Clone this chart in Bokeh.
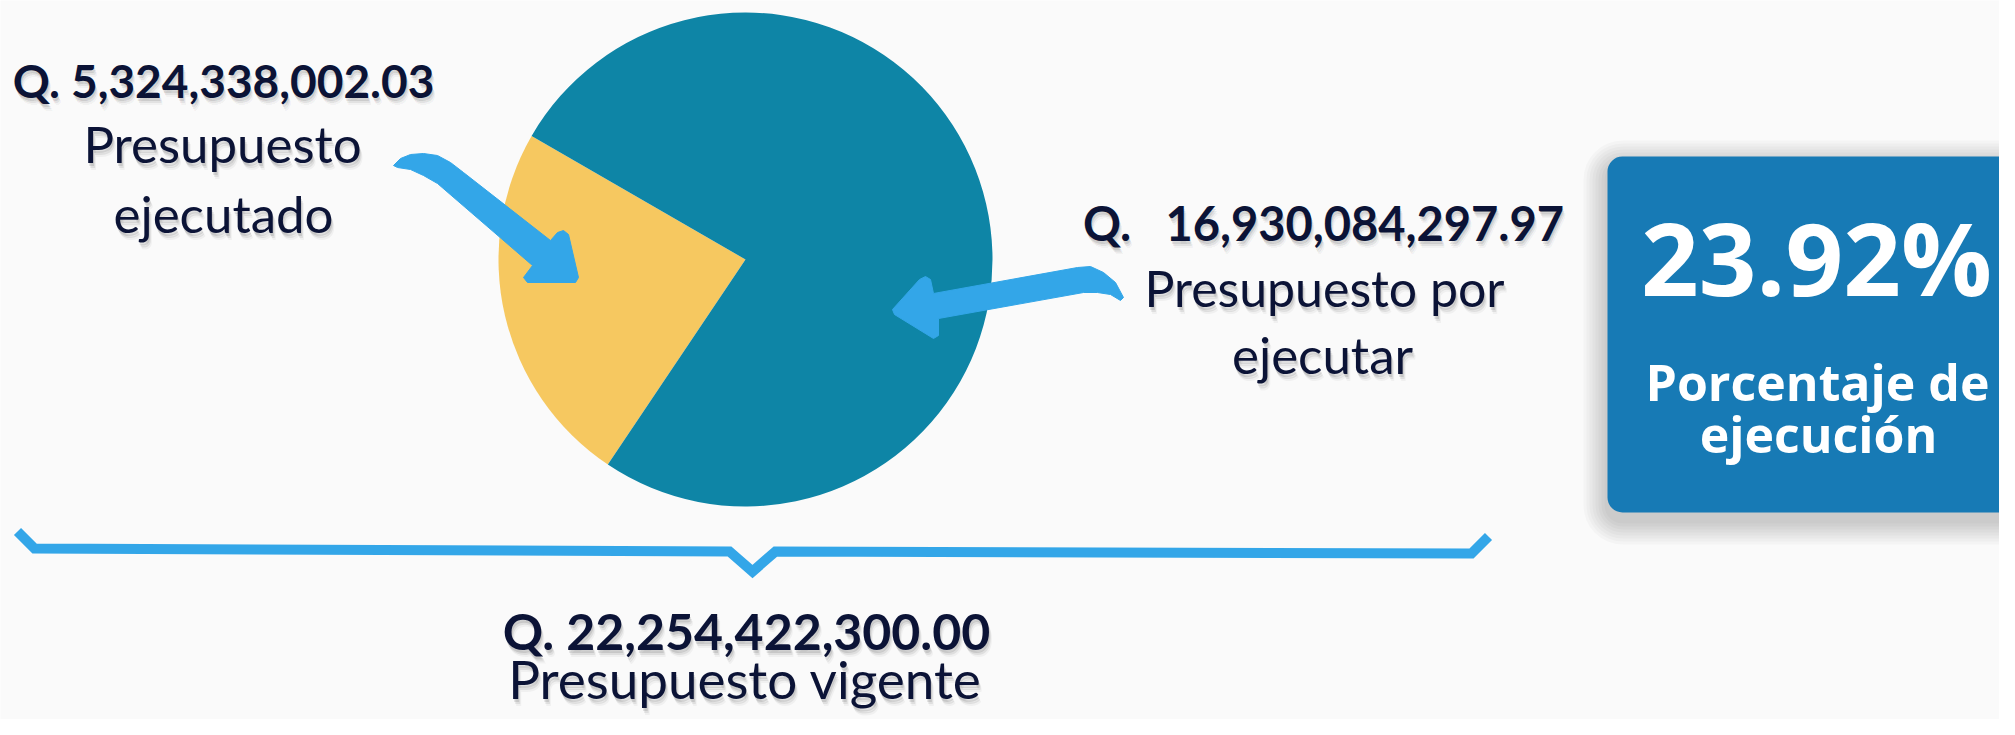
from bokeh.plotting import figure
from bokeh.models import Range1d
from bokeh.core.properties import value
from bokeh.embed import file_html
from bokeh.resources import INLINE
import math

# ---------------- data ----------------
categories = ["Presupuesto ejecutado", "Presupuesto por ejecutar"]
amounts = [5324338002.03, 16930084297.97]
total_budget = 22254422300.00
pct_executed = 23.92
amount_labels = ["Q. 5,324,338,002.03", "Q.   16,930,084,297.97"]
total_label = "Q. 22,254,422,300.00"
pct_label = "23.92%"
slice_colors = ["#F6C860", "#0E85A6"]

# ---------------- layout ----------------
W, H = 1999, 719


def Y(py):
    return -py


p = figure(width=W, height=H, output_backend="svg", toolbar_location=None,
           x_range=Range1d(0, W), y_range=Range1d(-H, 0),
           min_border=0, border_fill_color="#FAFAFA", background_fill_color="#FAFAFA")
p.axis.visible = False
p.grid.visible = False
p.outline_line_color = None

DARK = "#0B1336"
BLUE = "#33A6E8"
BOX = "#177AB5"

# ---------------- pie ----------------
cx, cy, r = 745, 259, 247
frac = amounts[0] / sum(amounts)
start = math.radians(150)
angles = [start, start + frac * 2 * math.pi, start + 2 * math.pi]
for i in range(2):
    p.wedge(x=cx, y=Y(cy), radius=r, start_angle=angles[i], end_angle=angles[i + 1],
            direction="anticlock", fill_color=slice_colors[i], line_color=None)

# ---------------- arrows ----------------
left_arrow = [(393, 165), (400, 158), (410, 154), (423, 153), (437, 155), (450, 162),
              (463, 172), (550, 240), (557, 232), (563, 230), (568, 234),
              (578, 277), (575, 282), (527, 282), (523, 277), (532, 265),
              (437, 183), (423, 175), (410, 169), (397, 167)]
right_arrow = [(1123, 297), (1115, 282), (1103, 272), (1090, 266),
               (1077, 267), (933, 293), (930, 279), (925, 276), (919, 279),
               (892, 309), (894, 314), (933, 338), (938, 335), (938, 318),
               (1083, 292), (1097, 292), (1110, 294), (1120, 300)]
for poly in (left_arrow, right_arrow):
    p.patch([q[0] for q in poly], [Y(q[1]) for q in poly], fill_color=BLUE, line_color=BLUE,
            line_width=1)

# ---------------- brace ----------------
brace = [(17, 531), (34, 548), (729, 551), (752, 571), (775, 551), (1471, 553), (1488, 536)]
p.line([q[0] for q in brace], [Y(q[1]) for q in brace], line_color=BLUE, line_width=10,
       line_join="miter")

# ---------------- box with shadow ----------------
bl, bt, br, bb = 1607, 156, 2040, 512
for k in range(8):
    e = 3 + k * 3
    p.quad(left=bl - e, right=br + e, top=Y(bt - e + 8), bottom=Y(bb + e + 8),
           fill_color="#000000", fill_alpha=0.025, line_color=None, border_radius=15 + e)
p.quad(left=bl, right=br, top=Y(bt), bottom=Y(bb), fill_color=BOX, line_color=None,
       border_radius=15)


# ---------------- texts ----------------
def label(x, base, txt, size, bold=False, font="Lato", color=DARK, shadow=True):
    style = "bold" if bold else "normal"
    txt = txt.replace(" ", "\u00a0")
    y = base - 0.41 * size
    if shadow:
        for dx, dy, a in [(1, 3, 0.10), (2, 5, 0.07), (3, 7, 0.04)]:
            p.text(x=[x + dx], y=[Y(y + dy)], text=[txt], text_font=value(font),
                   text_font_size=f"{size}px", text_font_style=style, text_color="#000000",
                   text_alpha=a, text_align="center", text_baseline="alphabetic")
    p.text(x=[x], y=[Y(y)], text=[txt], text_font=value(font), text_font_size=f"{size}px",
           text_font_style=style, text_color=color, text_align="center",
           text_baseline="alphabetic")


label(223, 99, amount_labels[0], 46, bold=True)
label(222, 164, "Presupuesto", 51)
label(223, 234, "ejecutado", 51)

label(1323, 242, amount_labels[1], 47, bold=True)
label(1324, 308, "Presupuesto por", 50)
label(1322, 375, "ejecutar", 51)

label(746, 651, total_label, 50, bold=True)
label(744, 700, "Presupuesto vigente", 53)

label(1816, 298, pct_label, 101, bold=True, font="Open Sans", color="#FFFFFF", shadow=False)
label(1817, 402, "Porcentaje de", 50, bold=True, font="Open Sans", color="#FFFFFF", shadow=False)
label(1818, 454, "ejecución", 50, bold=True, font="Open Sans", color="#FFFFFF", shadow=False)

open("out.html", "w").write(file_html(p, INLINE))
